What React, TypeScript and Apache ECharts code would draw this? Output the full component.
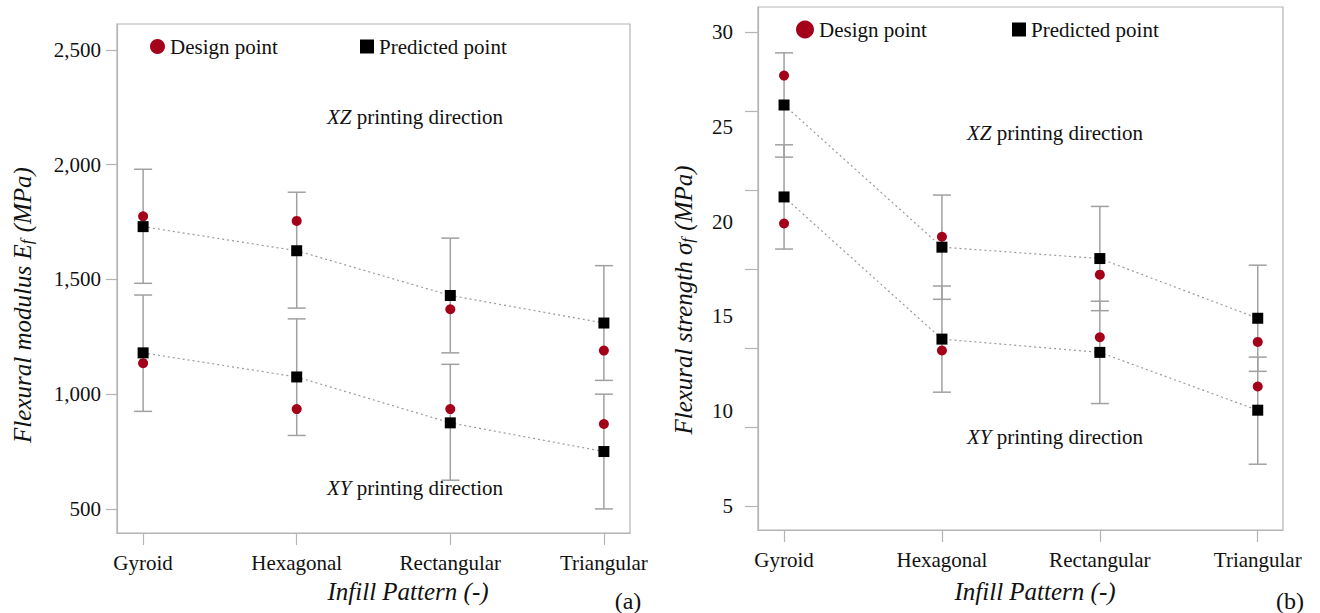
import React, { useEffect, useRef } from "react";
import * as echarts from "echarts";

const categories = ["Gyroid", "Hexagonal", "Rectangular", "Triangular"];

// (a) Flexural modulus (MPa)
const modXZPred = [1730, 1625, 1430, 1310];
const modXZDesign = [1775, 1755, 1370, 1190];
const modXZLow = [1483, 1375, 1180, 1060];
const modXZHigh = [1980, 1880, 1680, 1560];
const modXYPred = [1180, 1075, 875, 750];
const modXYDesign = [1135, 935, 935, 870];
const modXYLow = [925, 820, 625, 500];
const modXYHigh = [1432, 1328, 1130, 1000];
const modTicks = [500, 1000, 1500, 2000, 2500];

// (b) Flexural strength (MPa)
const strXZPred = [26.15, 18.65, 18.05, 14.9];
const strXZDesign = [27.7, 19.2, 17.2, 13.65];
const strXZLow = [23.4, 15.9, 15.3, 12.1];
const strXZHigh = [28.9, 21.4, 20.8, 17.7];
const strXYPred = [21.3, 13.8, 13.1, 10.05];
const strXYDesign = [19.9, 13.2, 13.9, 11.3];
const strXYLow = [18.55, 11.0, 10.4, 7.2];
const strXYHigh = [24.05, 16.6, 15.8, 12.85];
const strLabels = [5, 10, 15, 20, 25, 30];
const strTicks = [5, 9.17, 13.33, 17.5, 21.67, 25.83, 30];

const catIdx = [0, 1, 2, 3];

const FONT = "'Liberation Serif', 'Times New Roman', serif";
const RED = "#a5001a";
const BLACK = "#000000";
const GRAY = "#b4b4b4";
const BAR = "#a0a0a0";
const TXT = "#111111";

function pts(vals: number[]) {
  return vals.map((v, i) => [catIdx[i], v]);
}
function bars(lo: number[], hi: number[]) {
  return lo.map((l, i) => [catIdx[i], l, hi[i]]);
}

const renderErr = (params: any, api: any) => {
  const x = api.value(0);
  const lo = api.value(1);
  const hi = api.value(2);
  const p1 = api.coord([x, hi]);
  const p2 = api.coord([x, lo]);
  const hw = 9;
  const st = { stroke: BAR, lineWidth: 1.5 };
  return {
    type: "group",
    children: [
      { type: "line", shape: { x1: p1[0], y1: p1[1], x2: p2[0], y2: p2[1] }, style: st },
      { type: "line", shape: { x1: p1[0] - hw, y1: p1[1], x2: p1[0] + hw, y2: p1[1] }, style: st },
      { type: "line", shape: { x1: p2[0] - hw, y1: p2[1], x2: p2[0] + hw, y2: p2[1] }, style: st },
    ],
  };
};

function makeSeries(ax: number, xzPred: number[], xzDes: number[], xzLo: number[], xzHi: number[], xyPred: number[], xyDes: number[], xyLo: number[], xyHi: number[]) {
  const common = { xAxisIndex: ax, yAxisIndex: ax };
  return [
    { ...common, type: "custom", name: "errXZ" + ax, renderItem: renderErr, encode: { x: 0, y: [1, 2] }, data: bars(xzLo, xzHi), z: 1, silent: true },
    { ...common, type: "custom", name: "errXY" + ax, renderItem: renderErr, encode: { x: 0, y: [1, 2] }, data: bars(xyLo, xyHi), z: 1, silent: true },
    { ...common, type: "line", name: "lineXZ" + ax, data: pts(xzPred), showSymbol: false, symbol: "none", lineStyle: { color: "#9a9a9a", width: 1.2, type: [2, 3] }, z: 2, silent: true },
    { ...common, type: "line", name: "lineXY" + ax, data: pts(xyPred), showSymbol: false, symbol: "none", lineStyle: { color: "#9a9a9a", width: 1.2, type: [2, 3] }, z: 2, silent: true },
    { ...common, type: "scatter", name: "Design point", symbol: "circle", symbolSize: 10, itemStyle: { color: RED, opacity: 1 }, data: [...pts(xzDes), ...pts(xyDes)], z: 3 },
    { ...common, type: "scatter", name: "Predicted point", symbol: "rect", symbolSize: 11, itemStyle: { color: BLACK, opacity: 1 }, data: [...pts(xzPred), ...pts(xyPred)], z: 4 },
  ];
}

const tickLabel = { fontFamily: FONT, fontSize: 21, color: TXT };

function xAxis(grid: number, min: number, max: number) {
  return {
    type: "value",
    gridIndex: grid,
    min,
    max,
    splitLine: { show: false },
    axisLine: { show: true, onZero: false, lineStyle: { color: GRAY, width: 1.2 } },
    axisTick: { show: true, customValues: catIdx, length: 12, lineStyle: { color: GRAY, width: 1.2 } },
    axisLabel: { ...tickLabel, customValues: catIdx, margin: 19, formatter: (v: number) => categories[Math.round(v)] },
  };
}

export default function App() {
  const ref = useRef<HTMLDivElement>(null);
  useEffect(() => {
    document.body.style.margin = "0";
    const chart = echarts.init(ref.current!, null, { renderer: "svg" });
    const rich = {
      i: { fontFamily: FONT, fontSize: 21, fontStyle: "italic", fill: TXT },
      n: { fontFamily: FONT, fontSize: 21, fill: TXT },
    };
    const titleRich = {
      a: { fontFamily: FONT, fontSize: 25, fontStyle: "italic", fill: TXT },
      s: { fontFamily: FONT, fontSize: 17, fontStyle: "italic", fill: TXT, padding: [9, 1, 0, 0] },
    };
    const legText = { fontFamily: FONT, fontSize: 21, color: TXT };
    const option: any = {
      animation: false,
      backgroundColor: "#ffffff",
      grid: [
        { left: 117, top: 24, width: 513, height: 509, show: true, borderColor: GRAY, borderWidth: 1.2, backgroundColor: "transparent" },
        { left: 758, top: 7, width: 525, height: 523, show: true, borderColor: GRAY, borderWidth: 1.2, backgroundColor: "transparent" },
      ],
      xAxis: [xAxis(0, -0.17, 3.17), xAxis(1, -0.165, 3.16)],
      yAxis: [
        {
          type: "value",
          gridIndex: 0,
          min: 395,
          max: 2613,
          splitLine: { show: false },
          axisLine: { show: true, onZero: false, lineStyle: { color: GRAY, width: 1.2 } },
          axisTick: { show: true, customValues: modTicks, length: 11, lineStyle: { color: GRAY, width: 1.2 } },
          axisLabel: { ...tickLabel, customValues: modTicks, margin: 16, formatter: (v: number) => v.toLocaleString("en-US") },
        },
        {
          type: "value",
          gridIndex: 1,
          min: 3.73,
          max: 31.32,
          splitLine: { show: false },
          axisLine: { show: true, onZero: false, lineStyle: { color: GRAY, width: 1.2 } },
          axisTick: { show: true, customValues: strTicks, length: 13, lineStyle: { color: GRAY, width: 1.2 } },
          axisLabel: { ...tickLabel, customValues: strLabels, margin: 25, formatter: (v: number) => String(v) },
        },
      ],
      legend: [
        { data: ["Design point"], left: 150, top: 36, padding: 0, icon: "circle", itemWidth: 15, itemHeight: 15, textStyle: legText, selectedMode: false },
        { data: ["Predicted point"], left: 360, top: 36, padding: 0, icon: "rect", itemWidth: 14, itemHeight: 14, textStyle: legText, selectedMode: false },
        { data: ["Design point"], left: 796, top: 19, padding: 0, icon: "circle", itemWidth: 18, itemHeight: 18, textStyle: legText, selectedMode: false },
        { data: ["Predicted point"], left: 1012, top: 19, padding: 0, icon: "rect", itemWidth: 14, itemHeight: 14, textStyle: legText, selectedMode: false },
      ],
      graphic: [
        { type: "text", x: 415, y: 117, style: { text: "{i|XZ}{n| printing direction}", rich, align: "center", verticalAlign: "middle" } },
        { type: "text", x: 415, y: 488, style: { text: "{i|XY}{n| printing direction}", rich, align: "center", verticalAlign: "middle" } },
        { type: "text", x: 1055, y: 133, style: { text: "{i|XZ}{n| printing direction}", rich, align: "center", verticalAlign: "middle" } },
        { type: "text", x: 1055, y: 437, style: { text: "{i|XY}{n| printing direction}", rich, align: "center", verticalAlign: "middle" } },
        { type: "text", x: 408, y: 591, style: { text: "Infill Pattern (-)", fontFamily: FONT, fontSize: 25, fontStyle: "italic", fill: TXT, align: "center", verticalAlign: "middle" } },
        { type: "text", x: 1035, y: 591, style: { text: "Infill Pattern (-)", fontFamily: FONT, fontSize: 25, fontStyle: "italic", fill: TXT, align: "center", verticalAlign: "middle" } },
        { type: "text", x: 628, y: 601, style: { text: "(a)", fontFamily: FONT, fontSize: 24, fill: TXT, align: "center", verticalAlign: "middle" } },
        { type: "text", x: 1290, y: 601, style: { text: "(b)", fontFamily: FONT, fontSize: 24, fill: TXT, align: "center", verticalAlign: "middle" } },
        { type: "text", x: 22, y: 305, rotation: Math.PI / 2, style: { text: "{a|Flexural modulus E}{s|f}{a| (MPa)}", rich: titleRich, align: "center", verticalAlign: "middle" } },
        { type: "text", x: 683, y: 300, rotation: Math.PI / 2, style: { text: "{a|Flexural strength \u03c3}{s|f}{a| (MPa)}", rich: titleRich, align: "center", verticalAlign: "middle" } },
      ],
      series: [
        ...makeSeries(0, modXZPred, modXZDesign, modXZLow, modXZHigh, modXYPred, modXYDesign, modXYLow, modXYHigh),
        ...makeSeries(1, strXZPred, strXZDesign, strXZLow, strXZHigh, strXYPred, strXYDesign, strXYLow, strXYHigh),
      ],
    };
    chart.setOption(option);
    return () => chart.dispose();
  }, []);
  return <div ref={ref} style={{ width: 1320, height: 613 }} />;
}
